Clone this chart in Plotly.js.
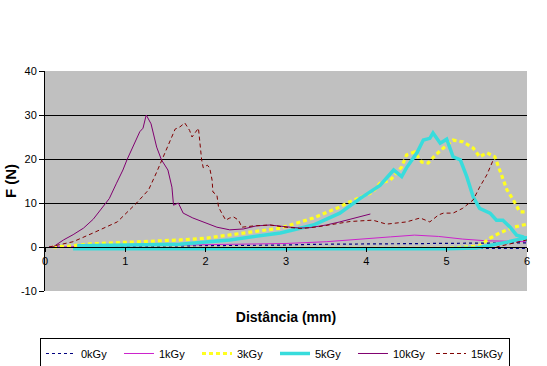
<!DOCTYPE html>
<html>
<head>
<meta charset="utf-8">
<script src="https://cdn.plot.ly/plotly-3.0.1.min.js"></script>
<style>html,body{margin:0;padding:0;background:#fff;}#chart{width:547px;height:366px;}</style>
</head>
<body>
<div id="chart"></div>
<script>
// Series names
var seriesNames = ["0kGy", "1kGy", "3kGy", "5kGy", "10kGy", "15kGy"];

// 0kGy
var x0 = [0.05, 0.5, 1.0, 1.5, 2.0, 2.5, 3.0, 3.3, 3.6, 4.0, 4.5, 5.0, 5.5, 6.0, 6.3, 6.3, 5.0, 4.0, 3.0, 2.0, 1.0, 0.4];
var y0 = [0, 0.05, 0.1, 0.15, 0.3, 0.35, 0.45, 0.6, 0.65, 0.8, 0.8, 0.85, 0.9, 1.0, 1.0, -0.3, -0.3, -0.3, -0.3, -0.3, -0.3, -0.3];

// 1kGy
var x1 = [0.05, 0.5, 1.0, 1.5, 2.0, 2.5, 3.0, 3.5, 4.0, 4.3, 4.6, 4.9, 5.2, 5.5, 5.8, 6.0];
var y1 = [0, 0.1, 0.2, 0.3, 0.5, 0.6, 0.8, 1.2, 1.8, 2.3, 2.7, 2.4, 1.8, 1.4, 1.3, 1.2];

// 3kGy
var x3 = [0.1, 0.3, 0.56, 1.0, 1.5, 1.68, 2.0, 2.3, 2.93, 3.34, 3.67, 3.76, 4.08, 4.17, 4.3, 4.44, 4.5, 4.6, 4.69, 4.77, 4.86, 4.96, 5.08, 5.2, 5.33, 5.41, 5.5, 5.6, 5.66, 5.75, 5.83, 5.91, 6.0, 6.2, 6.2, 5.83, 5.66, 5.54, 5.4, 5.0, 4.0, 3.0, 2.0, 1.0, 0.4];
var y3 = [0, 0.2, 0.7, 1.0, 1.4, 1.6, 2.0, 2.7, 4.3, 6.6, 9.1, 10, 12.5, 14.5, 15.2, 18.2, 20.9, 21.6, 19.3, 19.1, 20.9, 22.5, 24.3, 23.9, 22.5, 20.5, 21.4, 20.5, 17.5, 13, 10.7, 8, 8, 8, 6, 4.5, 3.2, 2, 0.2, -0.3, -0.3, -0.3, -0.3, -0.3, -0.3];

// 5kGy
var x5 = [0.4, 1.0, 1.68, 2.3, 2.93, 3.34, 3.67, 3.92, 4.17, 4.34, 4.44, 4.5, 4.63, 4.71, 4.79, 4.83, 4.92, 5.0, 5.08, 5.17, 5.25, 5.33, 5.41, 5.54, 5.62, 5.7, 5.79, 5.87, 5.95, 6.0, 6.2, 6.2, 5.75, 5.37, 5.0, 4.0, 3.0, 2.0, 1.0, 0.35];
var y5 = [0.3, 0.4, 0.6, 1.6, 3.2, 5, 7.7, 11, 14, 17.5, 16, 18, 21.4, 24.3, 24.7, 25.9, 23.6, 24.5, 20.5, 19.8, 16, 11.4, 8.8, 7.7, 6.1, 6.1, 4.5, 2.7, 2.3, 1.6, 1.5, 3, 1.1, -0.2, -0.4, -0.4, -0.4, -0.4, -0.4, -0.4];

// 10kGy
var x10 = [0.1, 0.23, 0.35, 0.48, 0.6, 0.72, 0.8, 0.89, 0.97, 1.02, 1.1, 1.18, 1.22, 1.26, 1.32, 1.39, 1.45, 1.53, 1.58, 1.6, 1.66, 1.72, 1.84, 1.97, 2.14, 2.3, 2.47, 2.63, 2.8, 3.0, 3.17, 3.3, 3.5, 3.67, 3.85, 4.05];
var y10 = [0, 1.6, 2.8, 4.3, 6.3, 9, 11, 14.5, 17.5, 19.8, 23, 26.2, 27, 30, 28, 22.7, 19.8, 17.5, 13.6, 9.5, 10, 7.7, 6.6, 5.7, 4.5, 3.9, 4.1, 4.8, 5.0, 4.6, 4.3, 4.4, 5.0, 5.7, 6.5, 7.5];

// 15kGy
var x15 = [0.05, 0.35, 0.6, 0.9, 1.14, 1.29, 1.39, 1.47, 1.56, 1.62, 1.68, 1.74, 1.8, 1.83, 1.87, 1.91, 1.95, 1.97, 2.02, 2.05, 2.08, 2.09, 2.14, 2.16, 2.2, 2.25, 2.3, 2.35, 2.41, 2.45, 2.6, 2.8, 3.0, 3.2, 3.4, 3.6, 3.8, 4.08, 4.25, 4.5, 4.67, 4.79, 4.9, 4.96, 5.08, 5.2, 5.33, 5.41, 5.5, 5.58, null, 6.0, 5.8, 5.62];
var y15 = [0, 1.2, 3.2, 5.7, 10, 13, 17, 20.5, 24.3, 26.8, 27.3, 28.2, 26.5, 25, 26, 27, 19.8, 18, 18.6, 18, 15.2, 12.5, 11.8, 9.1, 7.7, 6.1, 6.6, 6.8, 6.1, 4.5, 4.8, 5.0, 4.5, 4.2, 4.6, 5.2, 5.8, 6.1, 5.2, 5.7, 6.6, 5.7, 7.3, 7.7, 7.7, 8.8, 10.7, 13.6, 16.4, 19.8, null, 1.6, 0.8, 0];

// Axis ticks
var yTicks = [-10, 0, 10, 20, 30, 40];
var yGrid = [10, 20, 30];
var xTicks = [0, 1, 2, 3, 4, 5, 6];

var FONT = "Arial, 'Liberation Sans', sans-serif";

function tr(x, y, name, color, width, dash) {
  return {x: x, y: y, name: name, type: "scatter", mode: "lines",
    line: {color: color, width: width, dash: dash}, connectgaps: false, hoverinfo: "skip"};
}

var data = [
  tr(x0, y0, seriesNames[0], "#000080", 1.2, "3px,3px"),
  tr(x1, y1, seriesNames[1], "#CC22CC", 1, "solid"),
  tr(x3, y3, seriesNames[2], "#FFFF20", 3.2, "4px,3px"),
  tr(x5, y5, seriesNames[3], "#38DCDC", 3.5, "solid"),
  tr(x10, y10, seriesNames[4], "#800070", 1, "solid"),
  tr(x15, y15, seriesNames[5], "#800000", 1, "4px,3px")
];

// gridline-only overlay axis
data.push({x: [0], y: [0], type: "scatter", mode: "markers", yaxis: "y2",
  marker: {opacity: 0}, showlegend: false, hoverinfo: "skip"});

var layout = {
  width: 547, height: 366,
  margin: {l: 45, r: 20, t: 71, b: 75, autoexpand: false},
  paper_bgcolor: "#ffffff",
  plot_bgcolor: "#C0C0C0",
  font: {family: FONT, size: 11, color: "#000"},
  showlegend: true,
  xaxis: {
    range: [0, 6], tickvals: xTicks, ticktext: xTicks.map(String),
    anchor: "free", position: 0.2,
    showline: true, linecolor: "#000", linewidth: 1,
    ticks: "outside", ticklen: 4, tickcolor: "#000",
    showgrid: false, zeroline: false, automargin: false,
    tickfont: {family: FONT, size: 11, color: "#000"},
    title: {text: "<b>Distância (mm)</b>", font: {family: FONT, size: 14, color: "#000"}, standoff: 45}
  },
  yaxis: {
    range: [-10, 40], tickvals: yTicks, ticktext: yTicks.map(String),
    domain: [0, 1],
    showline: true, linecolor: "#000", linewidth: 1,
    ticks: "outside", ticklen: 5, tickcolor: "#000",
    showgrid: false, zeroline: false, automargin: false,
    tickfont: {family: FONT, size: 11, color: "#000"},
    title: {text: "<b>F (N)</b>", font: {family: FONT, size: 15, color: "#000"}, standoff: 0}
  },
  yaxis2: {
    overlaying: "y", range: [-10, 40], tickvals: yGrid,
    showticklabels: false, ticks: "", showgrid: true, gridcolor: "#000", gridwidth: 1,
    zeroline: false, showline: false
  },
  legend: {
    orientation: "h", x: -0.0104, xanchor: "left", y: -0.2136, yanchor: "top",
    bordercolor: "#000", borderwidth: 1, bgcolor: "#fff",
    font: {family: FONT, size: 11, color: "#000"},
    entrywidth: 33, entrywidthmode: "pixels", itemwidth: 30, tracegroupgap: 0
  }
};

Plotly.newPlot("chart", data, layout, {displayModeBar: false, staticPlot: true});
</script>
</body>
</html>
